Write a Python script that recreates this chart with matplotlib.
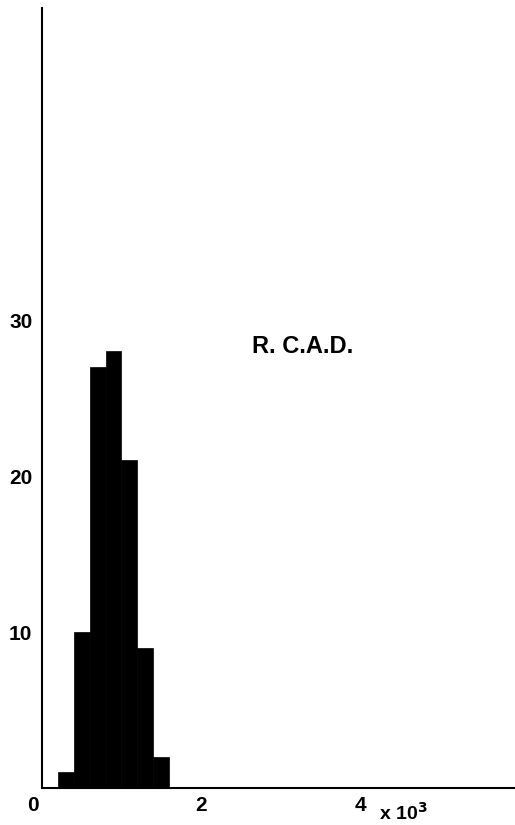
import matplotlib
matplotlib.use("Agg")
import matplotlib.pyplot as plt
import matplotlib.transforms as mtransforms

# Data (x in units of 10^3)
bin_edges = [0.2, 0.4, 0.6, 0.8, 1.0, 1.2, 1.4, 1.6]
counts = [1, 10, 27, 28, 21, 9, 2]
xticks = [0, 2, 4]
yticks = [10, 20, 30]
label = "R. C.A.D."

fam = ['Liberation Sans Narrow', 'Liberation Sans', 'DejaVu Sans']

fig = plt.figure(figsize=(5.15, 8.25), dpi=100)
ax = fig.add_axes([42/515, 37/825, 473/515, 780/825])

lefts = bin_edges[:-1]
widths = [b - a for a, b in zip(bin_edges[:-1], bin_edges[1:])]
ax.bar(lefts, counts, width=widths, align='edge', color='black', edgecolor='black', linewidth=0.5)

ax.set_xlim(0, 5.95)
ax.set_ylim(0, 50)
for s in ['top', 'right']:
    ax.spines[s].set_visible(False)
for s in ['left', 'bottom']:
    ax.spines[s].set_linewidth(1.5)
    ax.spines[s].set_color('black')

ax.set_xticks(xticks)
ax.set_xticklabels([str(t) for t in xticks])
ax.set_yticks(yticks)
ax.set_yticklabels([str(t) for t in yticks])
ax.tick_params(axis='both', length=0, labelsize=15)
ax.tick_params(axis='x', pad=6)
ax.tick_params(axis='y', pad=7)
for lab in ax.get_xticklabels() + ax.get_yticklabels():
    lab.set_fontfamily(fam)
    lab.set_fontweight('bold')
# shift the origin label left
xl = ax.get_xticklabels()
xl[0].set_transform(xl[0].get_transform() + mtransforms.ScaledTranslation(-9/100, 0, fig.dpi_scale_trans))

ax.text(3.28, 28.3, label, fontsize=17, fontweight='bold', family=fam, ha='center', va='center')
ax.text(4.55, -1.6, r'x 10$^{\mathbf{3}}$', fontsize=14, fontweight='bold', family=fam, ha='center', va='center')

fig.savefig('out.png', dpi=100)
